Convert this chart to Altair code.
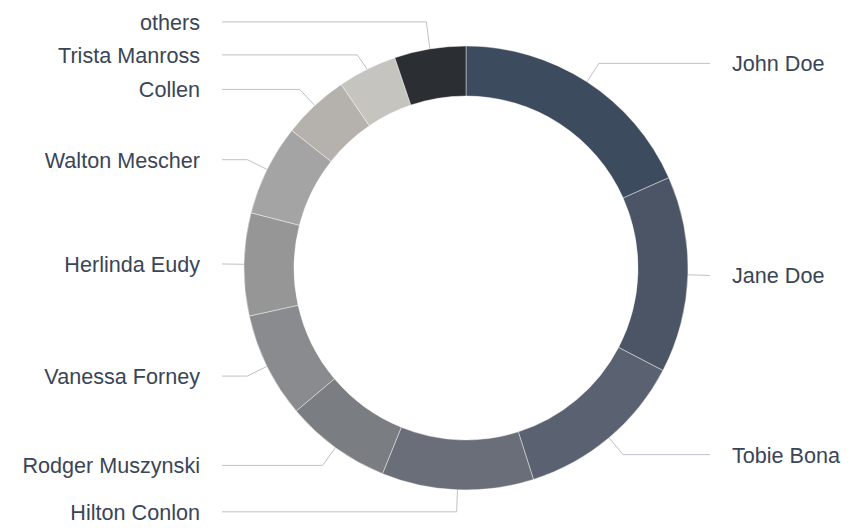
import altair as alt
import pandas as pd
import numpy as np

# ---- data ----
names = ["John Doe", "Jane Doe", "Tobie Bona", "Hilton Conlon", "Rodger Muszynski",
         "Vanessa Forney", "Herlinda Eudy", "Walton Mescher", "Collen", "Trista Manross", "others"]
values = [66.0, 51.5, 44.8, 39.8, 27.8, 27.6, 26.9, 23.9, 17.5, 15.5, 18.7]
colors = ["#3d4b5e", "#4b5566", "#5a6170", "#6a6e79", "#7a7d82", "#8a8b8e",
          "#969697", "#a4a4a4", "#b5b2ae", "#c6c4bf", "#2b2e32"]

# ---- layout constants (pixels) ----
W, H = 835, 512
CX, CY = 458, 260          # donut centre inside the view
R_IN, R_OUT = 172, 222
R_ELBOW = 244
LABEL_GAP = 22
LINE_H = 33

vals = np.array(values)
total = vals.sum()
start = np.cumsum(vals) - vals
mid = (start + vals / 2) / total * 2 * np.pi

# natural label y (up = positive), side
nat_y = R_ELBOW * np.cos(mid)
side = np.where(np.sin(mid) >= 0, 1, -1)


def spread(ys, gap):
    """ys sorted descending (top to bottom); returns adjusted positions."""
    clusters = []
    for y in ys:
        clusters.append([y])
        while len(clusters) > 1:
            a, b = clusters[-2], clusters[-1]
            ca, cb = np.mean(a), np.mean(b)
            bottom_a = ca - (len(a) - 1) / 2 * gap
            top_b = cb + (len(b) - 1) / 2 * gap
            if bottom_a - top_b < gap:
                clusters[-2] = a + b
                clusters.pop()
            else:
                break
    out = []
    for c in clusters:
        m = np.mean(c)
        n = len(c)
        out += [m + ((n - 1) / 2 - i) * gap for i in range(n)]
    return out


label_y = nat_y.copy()
for s in (1, -1):
    idx = [i for i in range(len(names)) if side[i] == s]
    idx.sort(key=lambda i: -nat_y[i])
    adj = spread([nat_y[i] for i in idx], LINE_H)
    for i, y in zip(idx, adj):
        label_y[i] = y

df = pd.DataFrame({"name": names, "value": values, "idx": range(len(names))})

rows = []
for i, n in enumerate(names):
    pts = [(R_OUT * np.sin(mid[i]), R_OUT * np.cos(mid[i])),
           (R_ELBOW * np.sin(mid[i]), label_y[i]),
           (side[i] * R_ELBOW, label_y[i])]
    for k, (x, y) in enumerate(pts):
        rows.append({"name": n, "k": k, "x": x, "y": y})
lines = pd.DataFrame(rows)

labels = pd.DataFrame({
    "name": names,
    "x": side * (R_ELBOW + LABEL_GAP),
    "y": label_y,
    "side": side,
})

xs = alt.Scale(domain=[-CX, W - CX], nice=False, zero=False)
ys = alt.Scale(domain=[-(H - CY), CY], nice=False, zero=False)

arcs = alt.Chart(df).mark_arc(innerRadius=R_IN, outerRadius=R_OUT,
                              stroke="#ffffff", strokeWidth=0.6, strokeOpacity=0.7).encode(
    x=alt.X(datum=0, type="quantitative", scale=xs, axis=None),
    y=alt.Y(datum=0, type="quantitative", scale=ys, axis=None),
    theta=alt.Theta("value:Q", stack=True),
    order=alt.Order("idx:Q"),
    color=alt.Color("name:N", scale=alt.Scale(domain=names, range=colors), legend=None),
)

leader = alt.Chart(lines).mark_line(color="#bfc1c6", strokeWidth=1).encode(
    x=alt.X("x:Q", scale=xs, axis=None),
    y=alt.Y("y:Q", scale=ys, axis=None),
    detail="name:N",
    order="k:Q",
)

txt_kw = dict(font="Liberation Sans", fontSize=21.6, color="#3a4557", baseline="middle", dy=2)
right_txt = alt.Chart(labels).transform_filter("datum.side > 0").mark_text(
    align="left", **txt_kw).encode(
    x=alt.X("x:Q", scale=xs, axis=None), y=alt.Y("y:Q", scale=ys, axis=None), text="name:N")
left_txt = alt.Chart(labels).transform_filter("datum.side < 0").mark_text(
    align="right", **txt_kw).encode(
    x=alt.X("x:Q", scale=xs, axis=None), y=alt.Y("y:Q", scale=ys, axis=None), text="name:N")

chart = alt.layer(leader, arcs, right_txt, left_txt).properties(
    width=W, height=H, autosize=alt.AutoSizeParams(type="none"), padding=0
).configure_view(stroke=None)

chart.save("out.html", embed_options={"renderer": "svg", "actions": False})
